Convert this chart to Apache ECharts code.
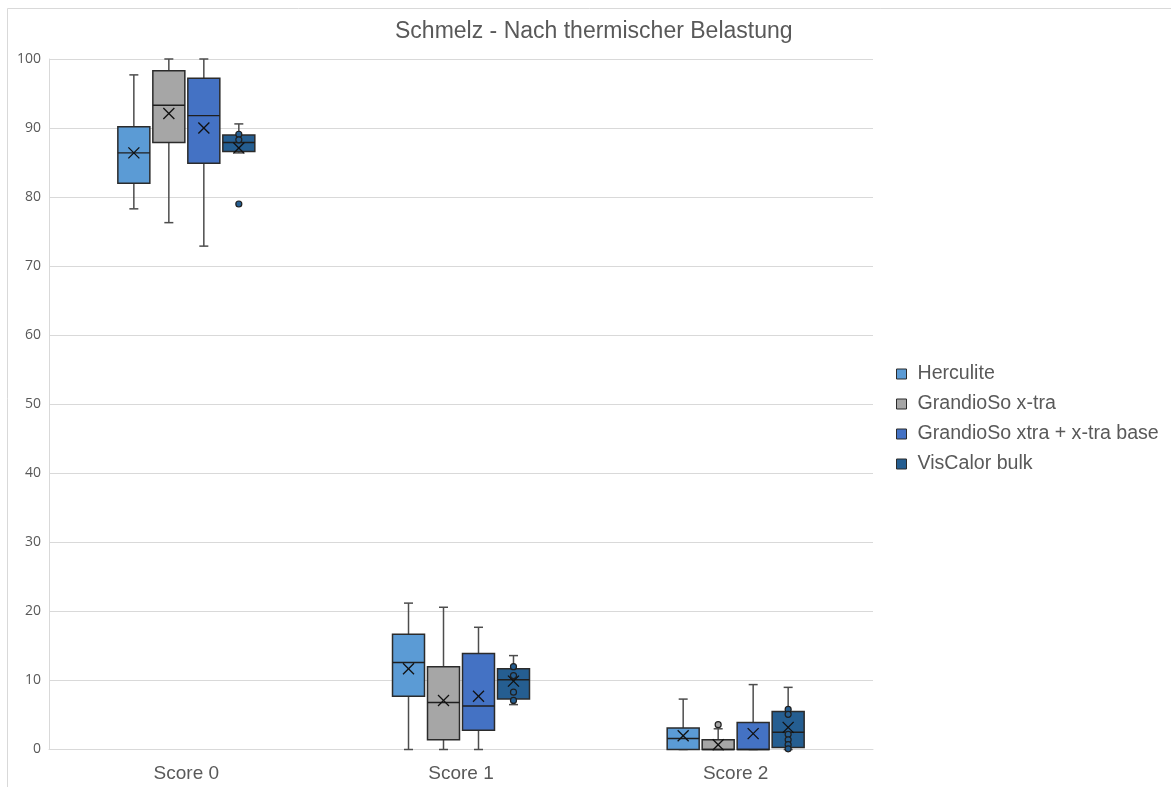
<!DOCTYPE html>
<html>
<head>
<meta charset="utf-8">
<script src="https://cdn.jsdelivr.net/npm/echarts@6/dist/echarts.min.js"></script>
<style>
html,body{margin:0;padding:0;background:#fff;}
#chart{width:1171px;height:787px;}
</style>
</head>
<body>
<div id="chart"></div>
<script>
// ---- data ----
const categories = ['Score 0', 'Score 1', 'Score 2'];
const seriesNames = ['Herculite', 'GrandioSo x-tra', 'GrandioSo xtra + x-tra base', 'VisCalor bulk'];
const yTicks = [0, 10, 20, 30, 40, 50, 60, 70, 80, 90, 100];

// [min, Q1, median, Q3, max] per category
const herculiteBox   = [[78.3, 82.0, 86.4, 90.2, 97.7], [0, 7.7, 12.6, 16.7, 21.2], [0, 0, 1.6, 3.1, 7.3]];
const grandioBox     = [[76.3, 87.9, 93.3, 98.3, 100], [0, 1.4, 6.8, 12.0, 20.6], [0, 0, 0, 1.4, 3.0]];
const grandioBaseBox = [[72.9, 84.9, 91.8, 97.2, 100], [0, 2.8, 6.3, 13.9, 17.7], [0, 0, 0, 3.9, 9.4]];
const visCalorBox    = [[86.4, 86.6, 87.9, 89.0, 90.6], [6.5, 7.3, 10.1, 11.7, 13.6], [0, 0.3, 2.5, 5.5, 9.0]];

const herculiteMean   = [86.4, 11.7, 2.0];
const grandioMean     = [92.1, 7.1, 0.7];
const grandioBaseMean = [90.0, 7.7, 2.3];
const visCalorMean    = [87.1, 9.9, 3.2];

// inner points / outliers per category
const herculitePoints   = [[], [], []];
const grandioPoints     = [[], [], [3.6]];
const grandioBasePoints = [[], [], []];
const visCalorPoints    = [[89.1, 88.3, 79.0], [12.0, 10.7, 8.3, 7.1], [5.8, 5.1, 2.2, 1.4, 0.7, 0.1]];

// ---- chart ----
const colors = ['#5B9BD5', '#A6A6A6', '#4472C4', '#255E91'];
const boxes = [herculiteBox, grandioBox, grandioBaseBox, visCalorBox];
const means = [herculiteMean, grandioMean, grandioBaseMean, visCalorMean];
const points = [herculitePoints, grandioPoints, grandioBasePoints, visCalorPoints];

function makeRender(sIdx) {
  return function (params, api) {
    const cat = api.value(0);
    const band = api.size([1, 0])[0];
    const off = (sIdx - 1.5) * band * 0.1274;
    const bw = band * 0.1165;
    const cx = api.coord([cat, 0])[0] + off;
    const Y = v => api.coord([cat, v])[1];
    const yMin = Y(api.value(1)), yQ1 = Y(api.value(2)), yMed = Y(api.value(3)),
          yQ3 = Y(api.value(4)), yMax = Y(api.value(5)), yMean = Y(api.value(6));
    const wStyle = {stroke: '#4d4d4d', lineWidth: 1.5};
    const cap = 4.5;
    const ch = [
      {type: 'line', shape: {x1: cx, y1: yQ3, x2: cx, y2: yMax}, style: wStyle},
      {type: 'line', shape: {x1: cx - cap, y1: yMax, x2: cx + cap, y2: yMax}, style: wStyle},
      {type: 'line', shape: {x1: cx, y1: yQ1, x2: cx, y2: yMin}, style: wStyle},
      {type: 'line', shape: {x1: cx - cap, y1: yMin, x2: cx + cap, y2: yMin}, style: wStyle},
      {type: 'rect', shape: {x: cx - bw / 2, y: yQ3, width: bw, height: yQ1 - yQ3},
        style: {fill: colors[sIdx], stroke: '#2b2b2b', lineWidth: 1.5}},
      {type: 'line', shape: {x1: cx - bw / 2, y1: yMed, x2: cx + bw / 2, y2: yMed},
        style: {stroke: '#1f1f1f', lineWidth: 1.4}}
    ];
    const pts = points[sIdx][params.dataIndex] || [];
    pts.forEach(v => {
      ch.push({type: 'circle', shape: {cx: cx, cy: Y(v), r: 3},
        style: {fill: colors[sIdx], stroke: '#1f1f1f', lineWidth: 1.2}});
    });
    const m = 5.5;
    ch.push({type: 'line', shape: {x1: cx - m, y1: yMean - m, x2: cx + m, y2: yMean + m}, style: {stroke: '#111', lineWidth: 1.3}});
    ch.push({type: 'line', shape: {x1: cx - m, y1: yMean + m, x2: cx + m, y2: yMean - m}, style: {stroke: '#111', lineWidth: 1.3}});
    return {type: 'group', children: ch};
  };
}

const series = seriesNames.map((name, s) => ({
  name: name,
  type: 'custom',
  renderItem: makeRender(s),
  itemStyle: {color: colors[s], borderColor: '#2b2b2b', borderWidth: 1},
  encode: {x: 0, y: [1, 2, 3, 4, 5, 6]},
  data: categories.map((c, i) => [i].concat(boxes[s][i]).concat([means[s][i]]))
}));

const chart = echarts.init(document.getElementById('chart'), null, {renderer: 'canvas'});
chart.setOption({
  animation: false,
  backgroundColor: '#fff',
  title: {
    text: 'Schmelz - Nach thermischer Belastung',
    left: 395, top: 20, padding: 0,
    textStyle: {fontFamily: 'Liberation Sans', fontSize: 23, fontWeight: 'normal', color: '#595959'}
  },
  legend: {
    orient: 'vertical', left: 896, top: 364, padding: 0,
    icon: 'rect', itemWidth: 10, itemHeight: 10, itemGap: 10,
    itemStyle: {borderColor: '#2b2b2b', borderWidth: 1},
    textStyle: {fontFamily: 'Liberation Sans', fontSize: 19.6, color: '#595959', lineHeight: 19, padding: [0, 0, 0, 6]},
    data: seriesNames
  },
  grid: {left: 49, right: 298, top: 59, bottom: 37.5, containLabel: false},
  xAxis: {
    type: 'category', data: categories,
    axisLine: {show: true, lineStyle: {color: '#D9D9D9', width: 1}},
    axisTick: {show: false},
    axisLabel: {fontFamily: 'Liberation Sans', fontSize: 19, color: '#595959', margin: 15}
  },
  yAxis: {
    type: 'value', min: yTicks[0], max: yTicks[yTicks.length - 1], interval: 10,
    axisLine: {show: true, lineStyle: {color: '#D9D9D9', width: 1}},
    axisTick: {show: false},
    splitLine: {lineStyle: {color: '#D9D9D9', width: 1}},
    axisLabel: {fontFamily: 'Open Sans', fontSize: 14, color: '#595959', margin: 8}
  },
  graphic: [{
    type: 'rect', silent: true, z: -1,
    shape: {x: 7.5, y: 8.5, width: 1300, height: 900},
    style: {fill: 'none', stroke: '#D9D9D9', lineWidth: 1}
  }],
  series: series
});
</script>
</body>
</html>
